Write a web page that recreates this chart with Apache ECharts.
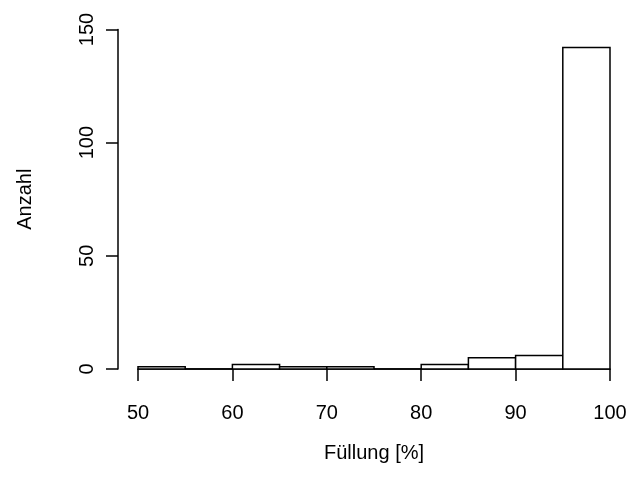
<!DOCTYPE html>
<html>
<head>
<meta charset="utf-8">
<script src="https://cdn.jsdelivr.net/npm/echarts@6/dist/echarts.min.js"></script>
<style>
  html, body { margin: 0; padding: 0; background: #fff; }
  #chart { width: 635px; height: 497px; }
</style>
</head>
<body>
<div id="chart"></div>
<script>
// Histogram bin edges (Füllung in %) and counts per bin
const breaks = [50, 55, 60, 65, 70, 75, 80, 85, 90, 95, 100];
const counts = [1, 0, 2, 1, 1, 0, 2, 5, 6, 142];
const xTicks = [50, 60, 70, 80, 90, 100];
const yTicks = [0, 50, 100, 150];

const FONT = '"Liberation Sans", Arial, Helvetica, sans-serif';
const LINE_W = 1.5;

const bins = counts.map((c, i) => [breaks[i], breaks[i + 1], c]);

const chart = echarts.init(document.getElementById('chart'), null, { renderer: 'canvas' });

chart.setOption({
  animation: false,
  backgroundColor: '#ffffff',
  grid: { left: 138, right: 25, top: 29.5, bottom: 128, containLabel: false },
  xAxis: {
    type: 'value',
    min: xTicks[0],
    max: xTicks[xTicks.length - 1],
    interval: 10,
    offset: 13.5,
    name: 'Füllung [%]',
    nameLocation: 'middle',
    nameGap: 61,
    nameTextStyle: { fontFamily: FONT, fontSize: 20, color: '#000' },
    axisLine: { show: true, lineStyle: { color: '#000', width: LINE_W } },
    axisTick: { show: true, length: 12, lineStyle: { color: '#000', width: LINE_W } },
    axisLabel: { margin: 21, fontFamily: FONT, fontSize: 20, color: '#000' },
    splitLine: { show: false }
  },
  yAxis: {
    type: 'value',
    min: yTicks[0],
    max: yTicks[yTicks.length - 1],
    interval: 50,
    offset: 20,
    name: 'Anzahl',
    nameLocation: 'middle',
    nameGap: 83,
    nameTextStyle: { fontFamily: FONT, fontSize: 20, color: '#000' },
    axisLine: { show: true, lineStyle: { color: '#000', width: LINE_W } },
    axisTick: { show: true, length: 12, lineStyle: { color: '#000', width: LINE_W } },
    axisLabel: { rotate: 90, margin: 21, fontFamily: FONT, fontSize: 20, color: '#000' },
    splitLine: { show: false }
  },
  series: [{
    type: 'custom',
    data: bins,
    encode: { x: [0, 1], y: 2 },
    renderItem: function (params, api) {
      const p0 = api.coord([api.value(0), 0]);
      const p1 = api.coord([api.value(1), api.value(2)]);
      return {
        type: 'rect',
        shape: { x: p0[0], y: p1[1], width: p1[0] - p0[0], height: p0[1] - p1[1] },
        style: { fill: '#ffffff', stroke: '#000000', lineWidth: LINE_W }
      };
    }
  }]
});
</script>
</body>
</html>
